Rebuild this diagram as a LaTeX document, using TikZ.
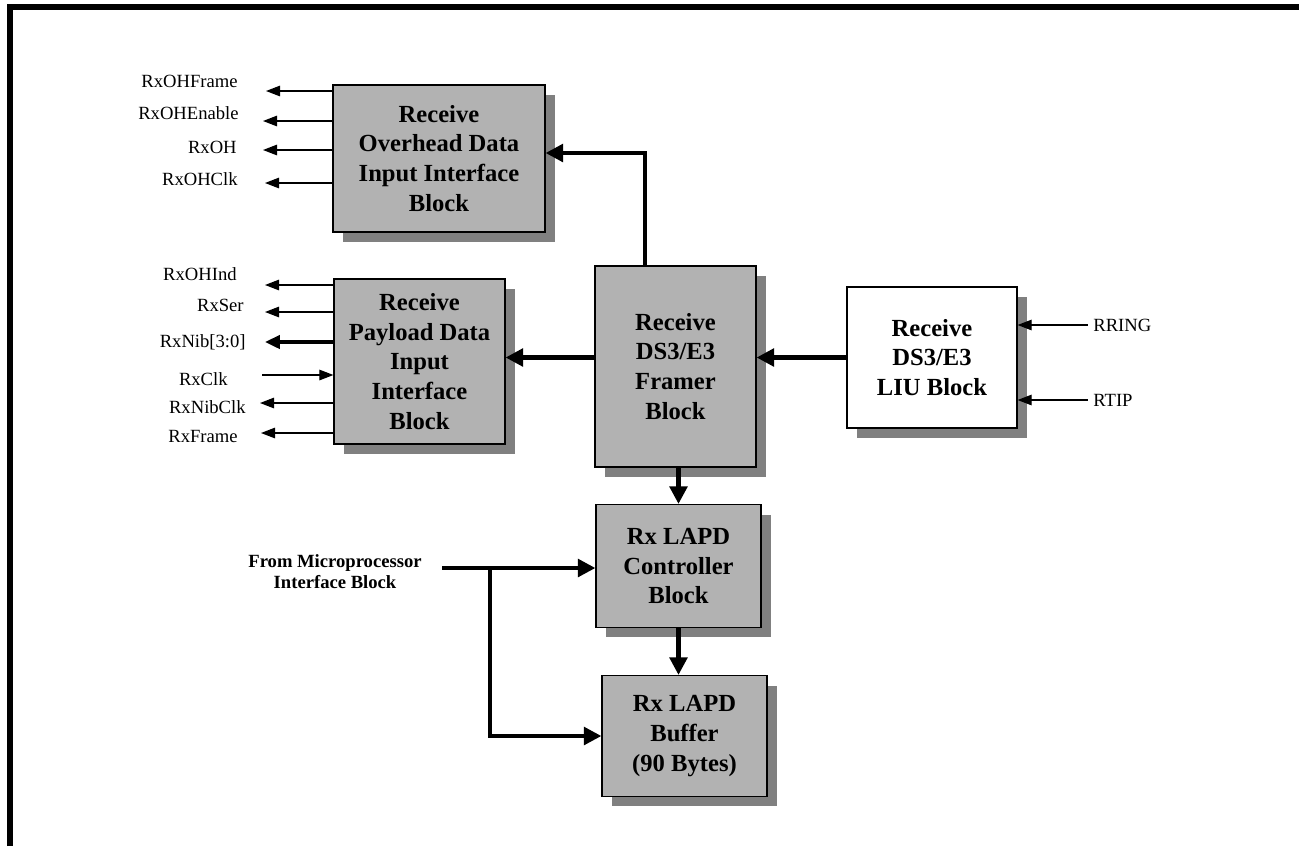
\documentclass[tikz,border=0pt]{standalone}
\usepackage{fontspec}
\setmainfont{Liberation Serif}
\usetikzlibrary{arrows.meta,shadows}

\begin{document}
\begin{tikzpicture}[
  x=0.02cm, y=-0.02cm,
  font=\fontsize{10.6}{12.5}\selectfont,
  blk/.style={
    rectangle, draw=black, line width=0.7pt, fill=black!30,
    align=center, inner sep=0pt,
    font=\fontsize{14}{17}\selectfont\bfseries,
    drop shadow={shadow xshift=0.2cm, shadow yshift=-0.2cm,
                 fill=black!50, opacity=1}
  },
  liu/.style={fill=white},
  sig/.style={-{Triangle[length=8pt,width=6pt]}, line width=0.7pt},
  bus/.style={-{Triangle[length=10pt,width=10pt]}, line width=2.3pt},
  lbl/.style={anchor=east, inner sep=0pt},
  rlbl/.style={anchor=west, inner sep=0pt}
]
\useasboundingbox (0,0) rectangle (1299,846);

% --- frame ---
\draw[line width=3.4pt] (10,846) -- (10,7) -- (1299,7);

% --- blocks ---
\node[blk, minimum width=4.24cm, minimum height=2.94cm] (ohb) at (439,158.5)
  {Receive\\Overhead Data\\Input Interface\\Block};
\node[blk, minimum width=3.42cm, minimum height=3.30cm] (pl) at (419.5,361.5)
  {Receive\\Payload Data\\Input\\Interface\\Block};
\node[blk, minimum width=3.22cm, minimum height=4.02cm] (fr) at (675.5,366.5)
  {Receive\\DS3/E3\\Framer\\Block};
\node[blk, liu, minimum width=3.40cm, minimum height=2.82cm] (lb) at (932,357.5)
  {Receive\\DS3/E3\\LIU Block};
\node[blk, minimum width=3.30cm, minimum height=2.46cm] (ctl) at (678.5,566)
  {Rx LAPD\\Controller\\Block};
\node[blk, minimum width=3.30cm, minimum height=2.42cm] (buf) at (684.5,736)
  {Rx LAPD\\Buffer\\(90 Bytes)};

% --- data path ---
\draw[bus] (lb.west) -- (lb.west -| fr.east);
\draw[bus] (fr.west |- lb.west) -- (pl.east |- lb.west);
\draw[bus] ([xshift=-0.61cm]fr.north) |- ([yshift=0.11cm]ohb.east);
\draw[bus] (fr.south -| ctl.north) -- (ctl.north);
\draw[bus] (ctl.south) -- (ctl.south |- buf.north);

% --- line inputs ---
\node[rlbl] (rring) at (1093,325) {RRING};
\node[rlbl] (rtip)  at (1093,400) {RTIP};
\draw[sig] ([xshift=-3pt]rring.west) -- (rring -| lb.east);
\draw[sig] ([xshift=-3pt]rtip.west) -- (rtip -| lb.east);

% --- overhead outputs ---
\node[lbl] (l-ohfr) at (238,81)  {RxOHFrame};
\node[lbl] (l-ohen) at (239,113) {RxOHEnable};
\node[lbl] (l-oh)   at (237,147) {RxOH};
\node[lbl] (l-ohck) at (238,179) {RxOHClk};
\coordinate (t-ohfr) at (266,91);
\coordinate (t-ohen) at (263,121);
\coordinate (t-oh)   at (263,150);
\coordinate (t-ohck) at (265,183);
\draw[sig] (ohb.west |- t-ohfr) -- (t-ohfr);
\draw[sig] (ohb.west |- t-ohen) -- (t-ohen);
\draw[sig] (ohb.west |- t-oh)   -- (t-oh);
\draw[sig] (ohb.west |- t-ohck) -- (t-ohck);

% --- payload outputs ---
\node[lbl] (l-ohind) at (237,274) {RxOHInd};
\node[lbl] (l-ser)   at (244,305) {RxSer};
\node[lbl] (l-nib)   at (246,342) {RxNib[3:0]};
\node[lbl] (l-clk)   at (228,379) {RxClk};
\node[lbl] (l-nbck)  at (246,407) {RxNibClk};
\node[lbl] (l-frm)   at (238,436) {RxFrame};
\coordinate (t-ohind) at (265,285);
\coordinate (t-ser)   at (265,312);
\coordinate (t-nib)   at (265,342);
\coordinate (t-clk)   at (262,375);
\coordinate (t-nbck)  at (260,403);
\coordinate (t-frm)   at (261,433);
\draw[sig] (pl.west |- t-ohind) -- (t-ohind);
\draw[sig] (pl.west |- t-ser)   -- (t-ser);
\draw[bus, -{Triangle[length=8.5pt,width=7.5pt]}] (pl.west |- t-nib) -- (t-nib);
\draw[sig] (t-clk) -- (pl.west |- t-clk);
\draw[sig] (pl.west |- t-nbck)  -- (t-nbck);
\draw[sig] (pl.west |- t-frm)   -- (t-frm);

% --- microprocessor access ---
\node[font=\fontsize{10.6}{12}\selectfont\bfseries, align=center] (mp) at (335,572)
  {From Microprocessor\\Interface Block};
\coordinate (mpin) at (442,568);
\coordinate (mpbr) at (490,568);
\draw[bus] (mpin) -- (mpin -| ctl.west);
\draw[bus] (mpbr) |- (buf.west);

\end{tikzpicture}
\end{document}
